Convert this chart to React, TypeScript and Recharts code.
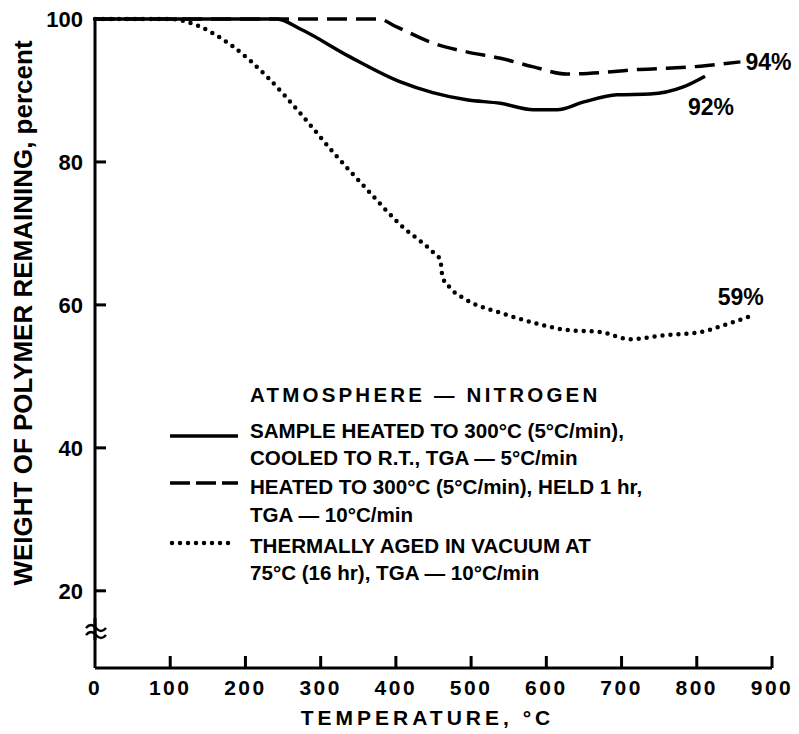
import React from "react";
import { LineChart, Line, XAxis, YAxis } from "recharts";

// TGA curves (temperature °C -> weight remaining %)
const heatedCooledTemp = [0, 100, 200, 242, 273, 339, 406, 449, 494, 539, 583, 614, 650, 694, 738, 782, 811];
const heatedCooledWeight = [100, 100, 100, 100, 98.6, 94.7, 91.2, 89.7, 88.7, 88.2, 87.3, 87.3, 88.4, 89.4, 89.5, 90.5, 92.0];

const heldTemp = [0, 100, 200, 300, 377, 401, 450, 494, 539, 583, 627, 672, 716, 760, 805, 858];
const heldWeight = [100, 100, 100, 100, 100, 98.9, 96.6, 95.4, 94.5, 93.3, 92.3, 92.5, 92.9, 93.1, 93.4, 94.0];

const agedTemp = [0, 100, 122, 184, 229, 273, 317, 362, 406, 449, 459, 462, 472, 494, 539, 583, 627, 672, 711, 760, 800, 840, 873];
const agedWeight = [100, 100, 99.6, 96.1, 91.9, 86.8, 81.3, 76.1, 71.2, 67.4, 66.3, 63.9, 62.4, 60.7, 58.9, 57.5, 56.5, 56.2, 55.2, 55.8, 56.1, 57.3, 58.5];

const xTicks = [0, 100, 200, 300, 400, 500, 600, 700, 800, 900];
const yTicks = [20, 40, 60, 80, 100];

const legendTitle = "ATMOSPHERE \u2014 NITROGEN";
const legendRows = [
  ["SAMPLE HEATED TO 300\u00b0C (5\u00b0C/min),", "COOLED TO R.T., TGA \u2014 5\u00b0C/min"],
  ["HEATED TO 300\u00b0C (5\u00b0C/min), HELD 1 hr,", "TGA \u2014 10\u00b0C/min"],
  ["THERMALLY AGED IN VACUUM AT", "75\u00b0C (16 hr), TGA \u2014 10\u00b0C/min"],
];

var FONT = "'Liberation Sans', Arial, Helvetica, sans-serif";

function zip(t: number[], w: number[]) {
  return t.map(function(v, i) { return { t: v, w: w[i] }; });
}

var solidData = zip(heatedCooledTemp, heatedCooledWeight);
var dashedData = zip(heldTemp, heldWeight);
var dottedData = zip(agedTemp, agedWeight);

// inward tick mark + label below the axis
function XTick(props: any) {
  var x = Number(props.x), y = Number(props.y), v = props.payload.value;
  return (
    <g>
      {v > 0 ? <rect x={x - 1.5} y={y - 12} width={3} height={12} fill="#000" /> : null}
      <text x={x} y={y + 27} textAnchor="middle" fontFamily={FONT} fontWeight="bold" fontSize={21} letterSpacing={2.5} fill="#000">{v}</text>
    </g>
  );
}

function YTick(props: any) {
  return (
    <text x={Number(props.x) - 12} y={Number(props.y) + 8} textAnchor="end" fontFamily={FONT} fontWeight="bold" fontSize={22} fill="#000">{props.payload.value}</text>
  );
}

function YLabel() {
  var cx = 23;
  var cy = 313;
  return (
    <text x={cx} y={cy} transform={"rotate(-90 " + cx + " " + cy + ")"} textAnchor="middle" dominantBaseline="central" fontFamily={FONT} fontWeight="bold" fontSize={26} fill="#000">
      WEIGHT OF POLYMER REMAINING, percent
    </text>
  );
}

// x title, the in-plot key and the axis break, drawn inside the chart svg
function XLabelAndKey(props: any) {
  var vb = props.viewBox;
  var lx = 160, ly = 375, textX = lx + 90;
  var baselines = [[63, 90], [119, 147], [178, 205]];
  var lineY = [61, 108, 168];
  return (
    <g>
      <text x={vb.x + vb.width / 2 - 6} y={vb.y + 57} textAnchor="middle" fontFamily={FONT} fontWeight="bold" fontSize={21} letterSpacing={4} fill="#000">TEMPERATURE, {"\u00b0"}C</text>
      <text x={textX} y={ly + 27} fontFamily={FONT} fontWeight="bold" fontSize={20.5} letterSpacing={3.2} fill="#000">{legendTitle}</text>
      <line x1={lx + 10} x2={lx + 78} y1={ly + lineY[0]} y2={ly + lineY[0]} stroke="#000" strokeWidth={3.5} />
      <line x1={lx + 10} x2={lx + 78} y1={ly + lineY[1]} y2={ly + lineY[1]} stroke="#000" strokeWidth={3.5} strokeDasharray="20 6" />
      <line x1={lx + 12} x2={lx + 76} y1={ly + lineY[2]} y2={ly + lineY[2]} stroke="#000" strokeWidth={4.5} strokeDasharray="0 8" strokeLinecap="round" />
      {legendRows.map(function(row, i) {
        return (
          <g key={i}>
            <text x={textX} y={ly + baselines[i][0]} fontFamily={FONT} fontWeight="bold" fontSize={20.6} fill="#000">{row[0]}</text>
            <text x={textX} y={ly + baselines[i][1]} fontFamily={FONT} fontWeight="bold" fontSize={20.6} fill="#000">{row[1]}</text>
          </g>
        );
      })}
      <rect x={86} y={621} width={20} height={16} fill="#fff" />
      <line x1={95} x2={95} y1={618} y2={640} stroke="#000" strokeWidth={3} />
      <path d="M86 628 q5 -6 10 0 t10 0" fill="none" stroke="#000" strokeWidth={2.5} />
      <path d="M86 635 q5 -6 10 0 t10 0" fill="none" stroke="#000" strokeWidth={2.5} />
    </g>
  );
}

function endLabel(text: string, count: number, dx: number, dy: number, anchor: string) {
  return function(props: any) {
    if (props.index !== count - 1) return null;
    return (
      <text key="end" x={props.x + dx} y={props.y + dy} textAnchor={anchor} fontFamily={FONT} fontWeight="bold" fontSize={23} fill="#000">{text}</text>
    );
  };
}

export default function App() {
  return (
    <div style={{ position: "absolute", left: 0, top: 0, width: 799, height: 734, background: "#fff" }}>
      <LineChart width={799} height={734} margin={{ top: 19, right: 27, bottom: 0, left: 0 }}>
        <XAxis
          dataKey="t"
          type="number"
          domain={[0, 900]}
          ticks={xTicks}
          height={66}
          tickSize={0}
          tickMargin={0}
          tickLine={false}
          tick={XTick}
          axisLine={{ stroke: "#000", strokeWidth: 3 }}
          label={{ content: XLabelAndKey }}
        />
        <YAxis
          dataKey="w"
          type="number"
          domain={[9.2, 100]}
          ticks={yTicks}
          width={95}
          tickSize={-11}
          tickMargin={11}
          tickLine={{ stroke: "#000", strokeWidth: 3 }}
          tick={YTick}
          axisLine={{ stroke: "#000", strokeWidth: 3 }}
          label={{ content: YLabel }}
        />
        <Line data={solidData} dataKey="w" stroke="#000" strokeWidth={3.5} type="monotone" dot={false} isAnimationActive={false} label={endLabel("92%", solidData.length, 6, 39, "middle")} />
        <Line data={dashedData} dataKey="w" stroke="#000" strokeWidth={3.5} strokeDasharray="20 9" type="monotone" dot={false} isAnimationActive={false} label={endLabel("94%", dashedData.length, 5, 8, "start")} />
        <Line data={dottedData} dataKey="w" stroke="#000" strokeWidth={4.5} strokeDasharray="0 8" strokeLinecap="round" type="monotone" dot={false} isAnimationActive={false} label={endLabel("59%", dottedData.length, -11, -11, "middle")} />
      </LineChart>
    </div>
  );
}
